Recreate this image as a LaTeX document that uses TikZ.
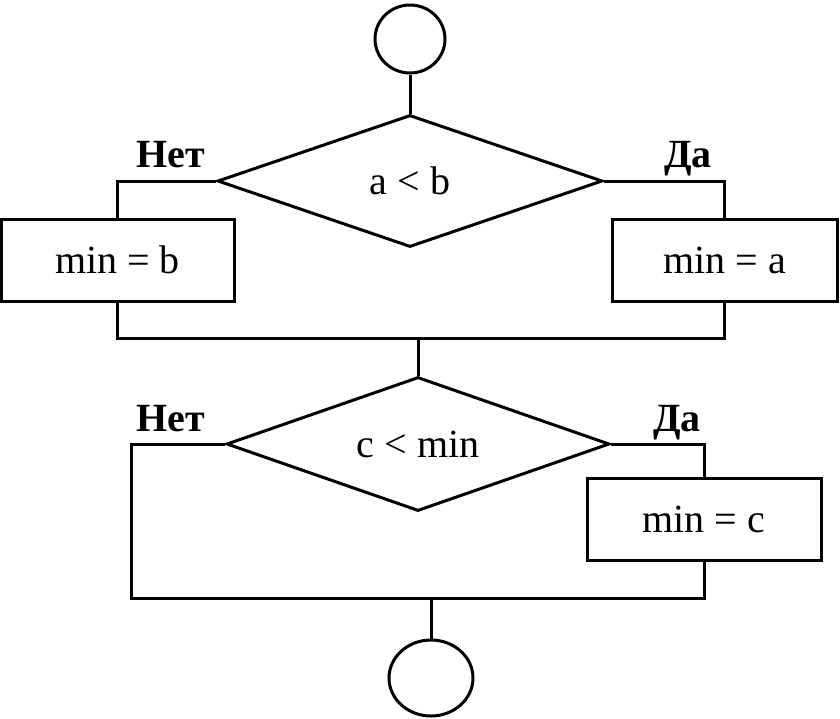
\documentclass[tikz,border=0pt]{standalone}
\usepackage{fontspec}
\setmainfont{Liberation Serif}
\usetikzlibrary{shapes.geometric}
\begin{document}
\begin{tikzpicture}[x=1pt,y=-1pt,
  every node/.style={font=\fontsize{40}{48}\selectfont, inner sep=0pt},
  conn/.style={line width=3pt},
  term/.style={draw, line width=3pt, ellipse},
  decision/.style={draw, line width=3pt, diamond, aspect=3, minimum width=385pt, minimum height=132pt},
  act/.style={draw, line width=3pt, rectangle, minimum height=82pt},
  lbl/.style={anchor=base, font=\fontsize{40}{48}\selectfont\bfseries}]
\useasboundingbox (0,0) rectangle (840,718);
\node[term, minimum width=70pt, minimum height=68pt] (start) at (410,39) {};
\node[decision] (d1) at (410,181) {a < b};
\node[act, minimum width=233pt] (boxB) at (117.5,260) {min = b};
\node[act, minimum width=225pt] (boxA) at (724.5,260) {min = a};
\node[lbl] (no1) at (171,167) {Нет};
\node[lbl] (yes1) at (688,167) {Да};
\coordinate (m1) at (418,338);
\node[decision, minimum width=383pt, minimum height=134pt] (d2) at (418,444) {c < min};
\node[act, minimum width=234pt] (boxC) at (704,519) {min = c};
\node[lbl] (no2) at (171,431) {Нет};
\node[lbl] (yes2) at (677,431) {Да};
\coordinate (cl) at (131,598);
\coordinate (m2) at (431,598);
\node[term, minimum width=84pt, minimum height=76pt] (end) at (431,678) {};
\draw[conn] (start) -- (d1.north);
\draw[conn] (d1.west) -| (boxB.north);
\draw[conn] (d1.east) -| (boxA.north);
\draw[conn] (boxB.south) |- (m1) -| (boxA.south);
\draw[conn] (m1) -- (d2.north);
\draw[conn] (d2.west) -| (cl) -- (m2);
\draw[conn] (d2.east) -| (boxC.north);
\draw[conn] (boxC.south) |- (m2);
\draw[conn] (m2) -- (end.north);
\end{tikzpicture}
\end{document}
